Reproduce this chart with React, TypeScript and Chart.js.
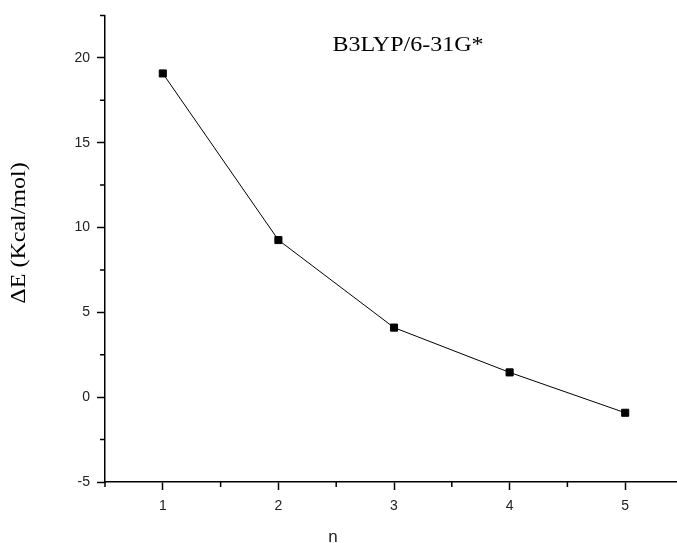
import React, { useEffect, useRef } from 'react';
import { Chart, registerables } from 'chart.js';

Chart.register(...registerables);

const nValues = [1, 2, 3, 4, 5];
const deltaE = [19.08, 9.26, 4.1, 1.46, -0.92];
const yTickValues = [-5, -2.5, 0, 2.5, 5, 7.5, 10, 12.5, 15, 17.5, 20, 22.5];
const xTickValues = [0.5, 1, 1.5, 2, 2.5, 3, 3.5, 4, 4.5, 5, 5.5];
const chartTitle = 'B3LYP/6-31G*';
const yAxisTitle = 'ΔE (Kcal/mol)';
const xAxisTitle = 'n';

const isMajorY = (v: number) => Math.abs(v % 5) < 1e-9;
const isMajorX = (v: number) => Math.abs(v % 1) < 1e-9;

const textPlugin = {
  id: 'customText',
  afterDraw(chart: any) {
    const ctx = chart.ctx;
    const xs = chart.scales.x;
    const ys = chart.scales.y;
    ctx.save();
    ctx.strokeStyle = '#000';
    ctx.lineWidth = 1.5;
    // minor ticks
    ctx.beginPath();
    yTickValues.forEach((v) => {
      if (!isMajorY(v)) {
        const py = ys.getPixelForValue(v);
        ctx.moveTo(xs.left, py);
        ctx.lineTo(xs.left - 5, py);
      }
    });
    xTickValues.forEach((v) => {
      if (!isMajorX(v)) {
        const px = xs.getPixelForValue(v);
        ctx.moveTo(px, ys.bottom);
        ctx.lineTo(px, ys.bottom + 5);
      }
    });
    ctx.stroke();

    ctx.fillStyle = '#000';
    // title
    ctx.save();
    ctx.font = '20px "Liberation Serif", serif';
    ctx.textAlign = 'center';
    ctx.textBaseline = 'middle';
    ctx.translate(408, 46);
    ctx.scale(1.2, 1);
    ctx.fillText(chartTitle, 0, 0);
    ctx.restore();
    // y axis title
    ctx.save();
    ctx.font = '20px "Liberation Serif", serif';
    ctx.textAlign = 'center';
    ctx.textBaseline = 'middle';
    ctx.translate(20, 233);
    ctx.rotate(-Math.PI / 2);
    ctx.scale(1.2, 1);
    ctx.fillText(yAxisTitle, 0, 0);
    ctx.restore();
    // x axis title
    ctx.font = '17px "Liberation Sans", Arial, sans-serif';
    ctx.textAlign = 'center';
    ctx.textBaseline = 'alphabetic';
    ctx.fillStyle = '#222';
    ctx.fillText(xAxisTitle, 333, 542);
    ctx.restore();
  },
};

export default function App() {
  const ref = useRef<HTMLCanvasElement>(null);
  useEffect(() => {
    if (!ref.current) return;
    const chart = new Chart(ref.current, {
      type: 'line',
      data: {
        datasets: [
          {
            data: nValues.map((n, i) => ({ x: n, y: deltaE[i] })),
            borderColor: '#000',
            borderWidth: 1,
            backgroundColor: '#000',
            pointStyle: 'rect',
            pointRadius: 5,
            pointBorderWidth: 1,
            pointBorderColor: '#000',
            pointBackgroundColor: '#000',
            tension: 0,
          },
        ],
      },
      plugins: [textPlugin],
      options: {
        responsive: false,
        animation: false,
        devicePixelRatio: 1,
        layout: { padding: { top: 12, right: 17, left: 0, bottom: 0 } },
        plugins: { legend: { display: false }, tooltip: { enabled: false }, title: { display: false } },
        scales: {
          x: {
            type: 'linear',
            min: 0.5,
            max: 5.5,
            afterBuildTicks: (s: any) => {
              s.ticks = xTickValues.map((v) => ({ value: v }));
            },
            afterFit: (s: any) => {
              s.height = 61;
            },
            ticks: {
              autoSkip: false,
              maxRotation: 0,
              padding: 8,
              color: '#222',
              font: { family: '"Liberation Sans", Arial, sans-serif', size: 14 },
              callback: (v: any) => (isMajorX(Number(v)) ? String(v) : null),
            },
            grid: {
              display: true,
              drawOnChartArea: false,
              drawTicks: true,
              tickLength: 8,
              tickWidth: 1.5,
              tickColor: (c: any) => (c.tick && isMajorX(c.tick.value) ? '#000' : 'rgba(0,0,0,0)'),
            },
            border: { display: true, color: '#000', width: 1.5 },
          },
          y: {
            type: 'linear',
            min: -5,
            max: 22.5,
            afterBuildTicks: (s: any) => {
              s.ticks = yTickValues.map((v) => ({ value: v }));
            },
            afterFit: (s: any) => {
              s.width = 105;
            },
            ticks: {
              autoSkip: false,
              padding: 7,
              color: '#222',
              font: { family: '"Liberation Sans", Arial, sans-serif', size: 14 },
              callback: (v: any) => (isMajorY(Number(v)) ? String(v) : null),
            },
            grid: {
              display: true,
              drawOnChartArea: false,
              drawTicks: true,
              tickLength: 8,
              tickWidth: 1.5,
              tickColor: (c: any) => (c.tick && isMajorY(c.tick.value) ? '#000' : 'rgba(0,0,0,0)'),
            },
            border: { display: true, color: '#000', width: 1.5 },
          },
        },
      },
    } as any);
    return () => chart.destroy();
  }, []);
  return (
    <div style={{ position: 'fixed', left: 0, top: 0, width: 677, height: 543, overflow: 'hidden', background: '#fff' }}>
      <canvas ref={ref} width={700} height={543} style={{ width: 700, height: 543, display: 'block' }} />
    </div>
  );
}
